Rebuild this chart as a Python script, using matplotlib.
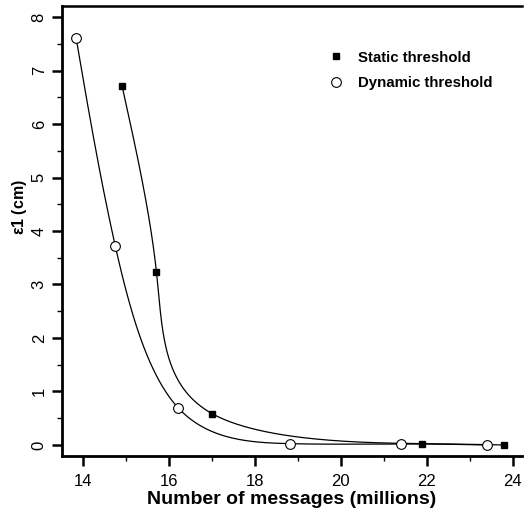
import numpy as np
import matplotlib
matplotlib.use("Agg")
import matplotlib.pyplot as plt
from matplotlib.lines import Line2D
from matplotlib.ticker import MultipleLocator

plt.rcParams["font.family"] = ["Liberation Sans", "DejaVu Sans"]
plt.rcParams["mathtext.fontset"] = "custom"
plt.rcParams["mathtext.rm"] = "Liberation Sans"

# Threshold comparison: error vs. number of messages
static_msgs = [14.9, 15.7, 17.0, 21.9, 23.8]
static_err = [6.71, 3.24, 0.585, 0.025, 0.0]
dynamic_msgs = [13.83, 14.74, 16.2, 18.81, 21.4, 23.4]
dynamic_err = [7.6, 3.725, 0.70, 0.025, 0.02, 0.0]

series_labels = ["Static threshold", "Dynamic threshold"]
x_label = "Number of messages (millions)"
y_label = r"$\mathregular{ε1}$ (cm)"


def natural_spline_1d(t, v, tt):
    n = len(t)
    h = np.diff(t)
    A = np.zeros((n, n))
    r = np.zeros(n)
    A[0, 0] = A[-1, -1] = 1.0
    for i in range(1, n - 1):
        A[i, i - 1] = h[i - 1]
        A[i, i] = 2 * (h[i - 1] + h[i])
        A[i, i + 1] = h[i]
        r[i] = 6 * ((v[i + 1] - v[i]) / h[i] - (v[i] - v[i - 1]) / h[i - 1])
    M = np.linalg.solve(A, r)
    idx = np.clip(np.searchsorted(t, tt) - 1, 0, n - 2)
    t0, t1 = t[idx], t[idx + 1]
    hh = t1 - t0
    a = (t1 - tt) / hh
    b = (tt - t0) / hh
    return (a * v[idx] + b * v[idx + 1]
            + ((a ** 3 - a) * M[idx] + (b ** 3 - b) * M[idx + 1]) * hh ** 2 / 6)


def smooth_curve(xs, ys, n=600):
    """Parametric (uniform-parameter) natural cubic spline through the points."""
    xs = np.asarray(xs, float)
    ys = np.asarray(ys, float)
    t = np.arange(len(xs), dtype=float)
    tt = np.linspace(0, t[-1], n)
    return natural_spline_1d(t, xs, tt), natural_spline_1d(t, ys, tt)


fig = plt.figure(figsize=(5.26, 5.13), dpi=100)
ax = fig.add_axes([0.1179, 0.1111, 0.8745, 0.8772])
ax.set_xlim(13.5, 24.22)
ax.set_ylim(-0.206, 8.206)

# fitted curves
ax.plot(*smooth_curve(static_msgs, static_err), color="black", lw=0.9)
ax.plot(*smooth_curve(dynamic_msgs, dynamic_err), color="black", lw=0.9)

# data points
ax.plot(static_msgs, static_err, ls="none", marker="s", ms=4.8,
        mfc="black", mec="black", clip_on=False)
ax.plot(dynamic_msgs, dynamic_err, ls="none", marker="o", ms=7,
        mfc="white", mec="black", mew=0.8, clip_on=False)

handles = [
    Line2D([], [], ls="none", marker="s", ms=4.8, mfc="black", mec="black"),
    Line2D([], [], ls="none", marker="o", ms=7, mfc="white", mec="black", mew=0.8),
]
ax.legend(handles, series_labels, loc="upper left",
          bbox_to_anchor=(0.566, 0.914), frameon=False,
          handlelength=1.0, handletextpad=0.95, labelspacing=0.75,
          borderaxespad=0.0,
          prop={"weight": "bold", "size": 10.8})

# axes styling
ax.spines["right"].set_visible(False)
for s in ["left", "bottom"]:
    ax.spines[s].set_linewidth(2.0)
ax.spines["top"].set_linewidth(1.8)

ax.xaxis.set_major_locator(MultipleLocator(2))
ax.xaxis.set_minor_locator(MultipleLocator(1))
ax.yaxis.set_major_locator(MultipleLocator(1))
ax.yaxis.set_minor_locator(MultipleLocator(0.5))
ax.tick_params(which="major", direction="out", length=7, width=1.8,
               labelsize=12, top=False, right=False)
ax.tick_params(axis="x", which="major", pad=6)
ax.tick_params(axis="y", which="major", pad=4, labelrotation=90)
ax.tick_params(which="minor", direction="out", length=3.5, width=1.0,
               top=False, right=False)
for lab in ax.get_yticklabels():
    lab.set_va("center")

ax.set_xlabel(x_label, fontsize=14, fontweight="bold", labelpad=1.5)
ax.set_ylabel(y_label, fontsize=11.5, fontweight="bold")
ax.yaxis.set_label_coords(-0.072, 0.553)

fig.savefig("out.png", dpi=100)
